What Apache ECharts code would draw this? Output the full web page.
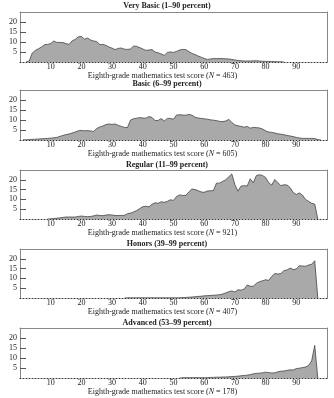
<!DOCTYPE html>
<html>
<head>
<meta charset="utf-8">
<script src="https://cdn.jsdelivr.net/npm/echarts@6/dist/echarts.min.js"></script>
<style>
html,body{margin:0;padding:0;background:#fff;}
#chart{width:334px;height:398px;}
</style>
</head>
<body>
<div id="chart"></div>
<script>
// Scores 1..99
const scores = Array.from({length: 99}, (_, i) => i + 1);

const panelTitles = [
  'Very Basic (1–90 percent)',
  'Basic (6–99 percent)',
  'Regular (11–99 percent)',
  'Honors (39–99 percent)',
  'Advanced (53–99 percent)'
];
const panelN = [463, 605, 921, 407, 178];

const veryBasic = [
  0, 0, 0.5, 4.5, 5.8, 6.6, 7.5, 8.7, 8.8, 9.2,
  10.5, 9.8, 9.8, 9.7, 9.2, 8.8, 10.6, 11.3, 12.6, 12.8,
  11.4, 12, 11, 10.5, 10.2, 8.7, 8.8, 8.3, 7.5, 6.9,
  6.2, 6.8, 7, 6.4, 6.3, 6.5, 8, 7.8, 7.2, 6.5,
  5.8, 6, 6.2, 5, 4.6, 4, 3.3, 4.8, 5, 4.8,
  5.3, 6, 6.3, 6.2, 5.2, 4.3, 3.7, 3, 2.4, 1.8,
  1.3, 1.5, 1.7, 1.7, 1.7, 1.7, 1.6, 1.5, 1.3, 1.0,
  0.8, 0.6, 0.5, 0.5, 0.5, 0.6, 0.6, 0.5, 0.4, 0.3,
  0.3, 0.2, 0.2, 0.1, 0.1, 0, 0, 0, 0, 0,
  0, 0, 0, 0, 0, 0, 0, 0, 0
];
const basic = [
  0.1, 0.1, 0.2, 0.3, 0.4, 0.5, 0.6, 0.7, 0.8, 0.9,
  1.1, 1.3, 1.8, 2.3, 2.7, 3, 3.5, 4, 4.6, 4.8,
  4.6, 4.7, 4.5, 4.3, 5.8, 6.5, 7, 7.7, 8, 7.8,
  8, 7.3, 6.8, 6.3, 6.2, 10, 10.6, 10.9, 11.2, 11,
  10.9, 11.7, 11.3, 9.7, 9.8, 10.7, 9.5, 10.8, 10.8, 10.4,
  12.5, 12.6, 12.5, 12.4, 12.8, 12.4, 11.4, 11, 10.8, 10.6,
  10.4, 10.1, 9.9, 9.7, 9.3, 9.2, 9.5, 10.3, 8.8, 7.5,
  7.1, 6.8, 6.4, 6.8, 5.9, 6.3, 6.2, 6, 5.5, 4.6,
  4, 3.8, 3.5, 3.1, 2.9, 2.6, 2.3, 2.0, 1.7, 1.3,
  1.0, 0.8, 0.8, 0.8, 0.8, 0.7, 0.2, 0, 0
];
const regular = [
  0, 0, 0, 0, 0, 0, 0, 0, 0, 0.1,
  0.2, 0.4, 0.6, 0.8, 1, 1, 1, 1, 1.3, 1.5,
  1.3, 1.2, 1.3, 1.6, 2, 1.8, 1.7, 2, 2.2, 2,
  1.8, 1.8, 1.8, 1.9, 2.7, 3, 3.6, 4.3, 5.3, 6.3,
  6.5, 6.2, 7.5, 8.3, 8, 8.8, 8.5, 9, 9.8, 9.5,
  11.5, 12.3, 12, 12, 13.8, 15.3, 15, 14.5, 13.8, 13.6,
  14.3, 14.4, 14.5, 18.3, 18.3, 19.2, 20, 21.5, 23, 17.5,
  14.2, 16.8, 17, 16.8, 20.5, 18.5, 22.2, 22.6, 22.2, 21.2,
  18.5, 17.3, 20.2, 18.5, 17, 17.5, 17.3, 16, 13.5, 12.5,
  13.3, 12.2, 10, 9, 8, 7.6, 0, 0, 0
];
const honors = [
  0, 0, 0, 0, 0, 0, 0, 0, 0, 0,
  0, 0, 0, 0, 0, 0, 0, 0, 0, 0,
  0, 0, 0, 0, 0, 0, 0, 0, 0, 0,
  0, 0, 0, 0, 0.1, 0.1, 0.1, 0.1, 0.1, 0.1,
  0.1, 0.1, 0.1, 0.1, 0.1, 0.1, 0.1, 0.1, 0.1, 0.1,
  0.1, 0.1, 0.2, 0.3, 0.4, 0.5, 0.6, 0.8, 0.9, 1.1,
  1.2, 1.3, 1.4, 1.5, 1.7, 2, 2.6, 3.2, 3.6, 3,
  4.2, 4, 4.5, 6.6, 6, 6, 7.5, 8.3, 8.8, 9.3,
  9, 11, 12.5, 12.2, 12.5, 14, 14.3, 15.3, 14.5, 14.8,
  16.5, 16.3, 16.2, 16.8, 17.2, 19, 0, 0, 0
];
const advanced = [
  0, 0, 0, 0, 0, 0, 0, 0, 0, 0,
  0, 0, 0, 0, 0, 0, 0, 0, 0, 0,
  0, 0, 0, 0, 0, 0, 0, 0, 0, 0,
  0, 0, 0, 0, 0, 0, 0, 0, 0, 0,
  0, 0, 0, 0, 0, 0, 0, 0, 0, 0,
  0, 0, 0.15, 0.15, 0.15, 0.15, 0.15, 0.15, 0.15, 0.15,
  0.15, 0.3, 0.3, 0.4, 0.4, 0.5, 0.5, 0.6, 0.7, 0.8,
  0.9, 1.1, 1.3, 1.4, 1.7, 2.1, 2.3, 2.4, 2.6, 2.9,
  2.7, 2.5, 2.6, 3.1, 3.4, 3.5, 3.8, 4.1, 4, 4.7,
  4.9, 5.2, 5.5, 6.3, 8.5, 16.3, 0, 0, 0
];

const xTickLabels = [10, 20, 30, 40, 50, 60, 70, 80, 90];
const yTickLabels = [5, 10, 15, 20];

const panels = [veryBasic, basic, regular, honors, advanced];

// layout
const gridTops = [12, 90, 170, 249, 328];
const gridHeights = [50, 50, 49, 49, 50];
const titleTops = [1.5, 79.5, 161, 239.5, 318.5];

const FONT = '"Liberation Serif", "DejaVu Serif", serif';
const TXT = '#222';

// zero runs are not drawn as line (only the dotted baseline shows)
function toPoints(vals) {
  return vals.map((v, i) => {
    const prev = i > 0 ? vals[i - 1] : 0;
    const next = i < vals.length - 1 ? vals[i + 1] : 0;
    if (v === 0 && prev === 0 && next === 0) return [scores[i], null];
    return [scores[i], v];
  });
}

const grid = [], xAxis = [], yAxis = [], series = [], title = [];
panels.forEach((vals, i) => {
  grid.push({left: 20, right: 7, top: gridTops[i], height: gridHeights[i], containLabel: false});
  title.push({
    text: panelTitles[i], left: 'center', top: titleTops[i], padding: 0,
    textStyle: {fontFamily: FONT, fontSize: 8, fontWeight: 'bold', color: TXT}
  });
  xAxis.push({
    type: 'value', gridIndex: i, min: 0, max: 100, interval: 10, position: 'bottom',
    axisLine: {show: true, onZero: false, lineStyle: {color: '#333', width: 1, type: [1, 2]}},
    axisTick: {show: false},
    splitLine: {show: false},
    axisLabel: {customValues: xTickLabels, margin: 1, fontFamily: FONT, fontSize: 8, color: TXT},
    name: 'Eighth-grade mathematics test score ({i|N} = ' + panelN[i] + ')',
    nameLocation: 'middle', nameGap: 7.5,
    nameTextStyle: {fontFamily: FONT, fontSize: 8, color: TXT, padding: [0, 22, 0, 0],
      rich: {i: {fontFamily: FONT, fontSize: 8, fontStyle: 'italic', color: TXT}}}
  });
  xAxis.push({
    type: 'value', gridIndex: i, min: 0, max: 100, position: 'top',
    axisLine: {show: true, onZero: false, lineStyle: {color: '#888', width: 1}},
    axisTick: {show: false}, axisLabel: {show: false}, splitLine: {show: false}
  });
  yAxis.push({
    type: 'value', gridIndex: i, min: 0, max: 25, interval: 5, position: 'left',
    axisLine: {show: true, onZero: false, lineStyle: {color: '#888', width: 1}},
    axisTick: {show: true, inside: true, length: 6, customValues: yTickLabels, lineStyle: {color: '#555'}},
    splitLine: {show: false},
    axisLabel: {customValues: yTickLabels, margin: 3, fontFamily: FONT, fontSize: 8, color: TXT}
  });
  yAxis.push({
    type: 'value', gridIndex: i, min: 0, max: 25, position: 'right',
    axisLine: {show: true, onZero: false, lineStyle: {color: '#888', width: 1}},
    axisTick: {show: false}, axisLabel: {show: false}, splitLine: {show: false}
  });
  series.push({
    type: 'line', xAxisIndex: 2 * i, yAxisIndex: 2 * i,
    data: toPoints(vals), showSymbol: false, connectNulls: false, silent: true,
    lineStyle: {color: '#444', width: 0.8},
    areaStyle: {color: '#a9a9a9', opacity: 1},
    z: 3
  });
});

const chart = echarts.init(document.getElementById('chart'), null, {renderer: 'canvas'});
chart.setOption({
  backgroundColor: '#fff',
  animation: false,
  title, grid, xAxis, yAxis, series
});
</script>
</body>
</html>
